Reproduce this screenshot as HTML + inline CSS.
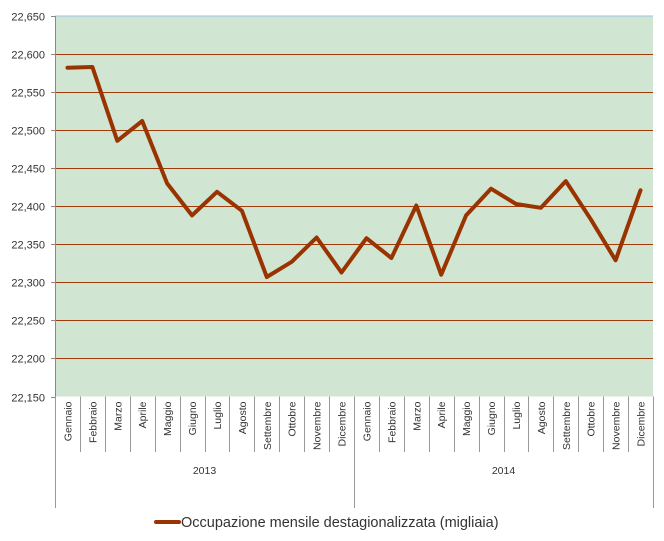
<!DOCTYPE html>
<html><head><meta charset="utf-8"><style>
body{margin:0;background:#fff;}
svg{display:block;font-family:"Liberation Sans",sans-serif;}
</style></head><body>
<svg id="chart" width="664" height="541"></svg>
<script>
const months = ["Gennaio","Febbraio","Marzo","Aprile","Maggio","Giugno","Luglio","Agosto","Settembre","Ottobre","Novembre","Dicembre"];
const years = ["2013","2014"];
const values = [22582,22583,22486,22512,22430,22388,22419,22394,22307,22327,22359,22313,
                22358,22332,22401,22310,22388,22423,22403,22398,22433,22383,22329,22421];
const yTicks = [22150,22200,22250,22300,22350,22400,22450,22500,22550,22600,22650];
const seriesName = "Occupazione mensile destagionalizzata (migliaia)";

const NS="http://www.w3.org/2000/svg";
const svgEl=document.getElementById('chart');
const PL=55,PR=653,PT=16,PB=396.5,yMin=22150,yMax=22650;
const nPts=values.length, band=(PR-PL)/nPts;
function xPos(i){return PL+band*(i+0.5);}
function yPos(v){return PB-(v-yMin)/(yMax-yMin)*(PB-PT);}
function mk(tag,attrs){const e=document.createElementNS(NS,tag);for(const k in attrs)e.setAttribute(k,attrs[k]);svgEl.appendChild(e);return e;}

const bgRect=mk('rect',{x:PL,y:PT,width:PR-PL,height:PB-PT,fill:'#d1e5d3'});


const topBorder=mk('line',{x1:PL,x2:PR,y1:PT,y2:PT,stroke:'#9dc3e6','stroke-width':1});



yTicks.forEach(function(v){
  const yy=Math.round(yPos(v))+0.5;
  if(v>yMin&&v<yMax){
    const g=mk('line',{x1:PL,x2:PR,y1:yy,y2:yy,stroke:'#a33a0a','stroke-width':1});
    
    
  }
  const tk=mk('line',{x1:PL-4,x2:PL,y1:yy,y2:yy,stroke:'#888'});
  
  
  const t=mk('text',{x:PL-10,y:yy+4,'text-anchor':'end','font-size':11,fill:'#333'});
  t.textContent=v.toLocaleString('en-US');
  
  
});
const yAxisLine=mk('line',{x1:PL+0.5,x2:PL+0.5,y1:PT,y2:PB,stroke:'#888'});



for(let i=0;i<=nPts;i++){
  const xx=Math.round(PL+band*i)+0.5;
  const end=(i%12===0)?508:452;
  const s=mk('line',{x1:xx,x2:xx,y1:PB,y2:end,stroke:'#999'});
  
  
}
values.forEach(function(v,i){
  const t=mk('text',{x:0,y:0,'text-anchor':'end','font-size':10.5,fill:'#333',transform:'translate('+(xPos(i)+4)+','+(PB+5)+') rotate(-90)'});
  t.textContent=months[i%12];
  
  
});
years.forEach(function(yr,k){
  const t=mk('text',{x:PL+band*(12*k+6),y:474,'text-anchor':'middle','font-size':10.5,fill:'#333'});
  t.textContent=yr;
  
  
});

const pts=values.map(function(v,i){return xPos(i).toFixed(1)+','+yPos(v).toFixed(1);}).join(' ');
const seriesLine=mk('polyline',{points:pts,fill:'none',stroke:'#993300','stroke-width':4,'stroke-linejoin':'round','stroke-linecap':'round'});



const legendSwatch=mk('line',{x1:156,x2:179,y1:522,y2:522,stroke:'#993300','stroke-width':4,'stroke-linecap':'round'});


const legendText=mk('text',{x:181,y:527,'font-size':14.5,fill:'#333'});
legendText.textContent=seriesName;


</script>
</body></html>
